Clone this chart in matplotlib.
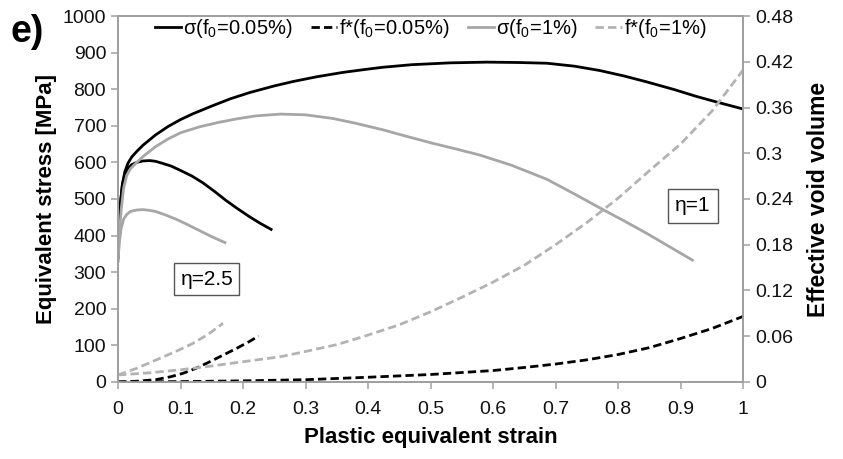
"""Equivalent stress and effective void volume vs plastic strain (panel e)."""

import matplotlib
matplotlib.use("Agg")
import matplotlib.pyplot as plt
from matplotlib.ticker import FuncFormatter, MultipleLocator

plt.rcParams["font.family"] = ["Liberation Sans", "DejaVu Sans"]
plt.rcParams["mathtext.fontset"] = "custom"
plt.rcParams["mathtext.rm"] = "Liberation Sans"
plt.rcParams["mathtext.default"] = "regular"

# --- eta = 1 -------------------------------------------------------------
strain_s1_a = [0, 0.002, 0.004, 0.007, 0.011, 0.016, 0.022, 0.03, 0.04, 0.06,
               0.08, 0.1, 0.12, 0.15, 0.18, 0.211, 0.25, 0.28, 0.318, 0.36,
               0.4, 0.424, 0.47, 0.531, 0.59, 0.64, 0.686, 0.73, 0.771, 0.81,
               0.846, 0.89, 0.926, 0.96, 1.0]
stress_s1_a = [340, 430, 490, 540, 575, 598, 615, 630, 647, 675,
               698, 717, 733, 754, 774, 791, 809, 821, 834, 846,
               855, 860, 867, 872, 874, 873, 871, 863, 851, 836,
               820, 799, 780, 764, 746]

strain_s1_b = [0, 0.002, 0.005, 0.009, 0.014, 0.02, 0.03, 0.04, 0.06, 0.08,
               0.1, 0.13, 0.16, 0.19, 0.22, 0.26, 0.3, 0.344, 0.38, 0.424,
               0.46, 0.504, 0.54, 0.579, 0.63, 0.686, 0.73, 0.777, 0.81, 0.846,
               0.88, 0.919]
stress_s1_b = [330, 400, 470, 530, 565, 583, 600, 616, 643, 664,
               681, 697, 709, 719, 727, 732, 730, 720, 707, 689,
               672, 652, 637, 620, 592, 554, 514, 470, 440, 406,
               372, 333]

strain_f1_a = [0, 0.1, 0.2, 0.3, 0.4, 0.5, 0.6, 0.65, 0.7, 0.75,
               0.8, 0.85, 0.9, 0.95, 1.0]
void_f1_a = [0, 0.0005, 0.0015, 0.003, 0.0062, 0.0098, 0.015, 0.019, 0.0235, 0.029,
             0.036, 0.045, 0.057, 0.07, 0.086]

strain_f1_b = [0, 0.05, 0.1, 0.15, 0.2, 0.259, 0.3, 0.35, 0.392, 0.45,
               0.5, 0.55, 0.6, 0.65, 0.7, 0.75, 0.8, 0.85, 0.9, 0.95, 1.0]
void_f1_b = [0.0092, 0.012, 0.016, 0.021, 0.0266, 0.033, 0.04, 0.049, 0.0594, 0.075,
             0.092, 0.111, 0.131, 0.153, 0.18, 0.209, 0.241, 0.277, 0.312, 0.355, 0.409]

# --- eta = 2.5 -----------------------------------------------------------
strain_s25_a = [0, 0.002, 0.004, 0.007, 0.011, 0.016, 0.022, 0.03, 0.04, 0.051,
                0.06, 0.07, 0.085, 0.1, 0.118, 0.136, 0.155, 0.172, 0.19, 0.21,
                0.228, 0.245]
stress_s25_a = [340, 430, 490, 540, 568, 584, 594, 600, 604, 605,
                603, 598, 590, 578, 563, 544, 520, 497, 475, 452,
                433, 417]

strain_s25_b = [0, 0.002, 0.005, 0.009, 0.014, 0.02, 0.03, 0.04, 0.05, 0.06,
                0.075, 0.094, 0.11, 0.13, 0.15, 0.171]
stress_s25_b = [330, 380, 420, 445, 458, 466, 470, 471, 469, 466,
                457, 444, 431, 414, 397, 381]

strain_f25_a = [0, 0.03, 0.06, 0.085, 0.104, 0.125, 0.147, 0.17, 0.19, 0.21, 0.225]
void_f25_a = [0, 0.001, 0.003, 0.007, 0.0114, 0.018, 0.0266, 0.036, 0.0442, 0.053, 0.0603]

strain_f25_b = [0, 0.03, 0.067, 0.095, 0.12, 0.145, 0.168]
void_f25_b = [0.0092, 0.018, 0.031, 0.041, 0.0507, 0.063, 0.077]

labels = ["σ(f$_0$=0.05%)", "f*(f$_0$=0.05%)", "σ(f$_0$=1%)", "f*(f$_0$=1%)"]

BLACK = "#000000"
GREY = "#a6a6a6"
GREY_D = "#b3b3b3"
AXC = "#a0a0a0"

fig = plt.figure(figsize=(8.43, 4.59), dpi=100)
ax = fig.add_axes([0.14, 0.1678, 0.7414, 0.7973])
ax2 = ax.twinx()

h1, = ax.plot(strain_s1_a, stress_s1_a, color=BLACK, lw=2.0)
ax.plot(strain_s25_a, stress_s25_a, color=BLACK, lw=2.0)
h3, = ax.plot(strain_s1_b, stress_s1_b, color=GREY, lw=2.0)
ax.plot(strain_s25_b, stress_s25_b, color=GREY, lw=2.0)

h2, = ax2.plot(strain_f1_a, void_f1_a, color=BLACK, lw=2.0, dashes=(3, 1.5))
ax2.plot(strain_f25_a, void_f25_a, color=BLACK, lw=2.0, dashes=(3, 1.5))
h4, = ax2.plot(strain_f1_b, void_f1_b, color=GREY_D, lw=2.0, dashes=(3, 1.5))
ax2.plot(strain_f25_b, void_f25_b, color=GREY_D, lw=2.0, dashes=(3, 1.5))

ax.set_xlim(0, 1)
ax.set_ylim(0, 1000)
ax2.set_ylim(0, 0.48)
ax.xaxis.set_major_locator(MultipleLocator(0.1))
ax.yaxis.set_major_locator(MultipleLocator(100))
ax2.yaxis.set_major_locator(MultipleLocator(0.06))
ax.xaxis.set_major_formatter(FuncFormatter(lambda v, _: f"{v:.10g}" if v else "0"))
ax2.yaxis.set_major_formatter(FuncFormatter(lambda v, _: f"{round(v, 2):g}" if v > 1e-9 else "0"))

for a in (ax, ax2):
    for sp in a.spines.values():
        sp.set_color(AXC)
        sp.set_linewidth(1.3)
    a.tick_params(colors=AXC, labelcolor="#111111", labelsize=14,
                  length=5, width=1.1, direction="out")
ax.tick_params(axis="x", pad=9)

ax.set_xlabel("Plastic equivalent strain", fontsize=16, fontweight="bold", labelpad=6)
ax.set_ylabel("Equivalent stress [MPa]", fontsize=16, fontweight="bold", labelpad=4)
ax2.set_ylabel("Effective void volume", fontsize=16.5, fontweight="bold", labelpad=10)

ax.text(0.142, 281, "η=2.5", fontsize=15, ha="center", va="center",
        bbox=dict(boxstyle="square,pad=0.3", fc="white", ec="#555555", lw=1.0))
ax.text(0.92, 481, "η=1", fontsize=15, ha="center", va="center",
        bbox=dict(boxstyle="square,pad=0.35", fc="white", ec="#555555", lw=1.0))

fig.text(0.013, 0.93, "e)", fontsize=27, fontweight="bold", ha="left", va="center")

ax2.legend([h1, h2, h3, h4], labels, loc="center", bbox_to_anchor=(0.5, 0.965),
           ncol=4, frameon=False, fontsize=14.5, handlelength=1.3, handletextpad=0.1,
           columnspacing=0.9)

fig.savefig("out.png", dpi=100)
